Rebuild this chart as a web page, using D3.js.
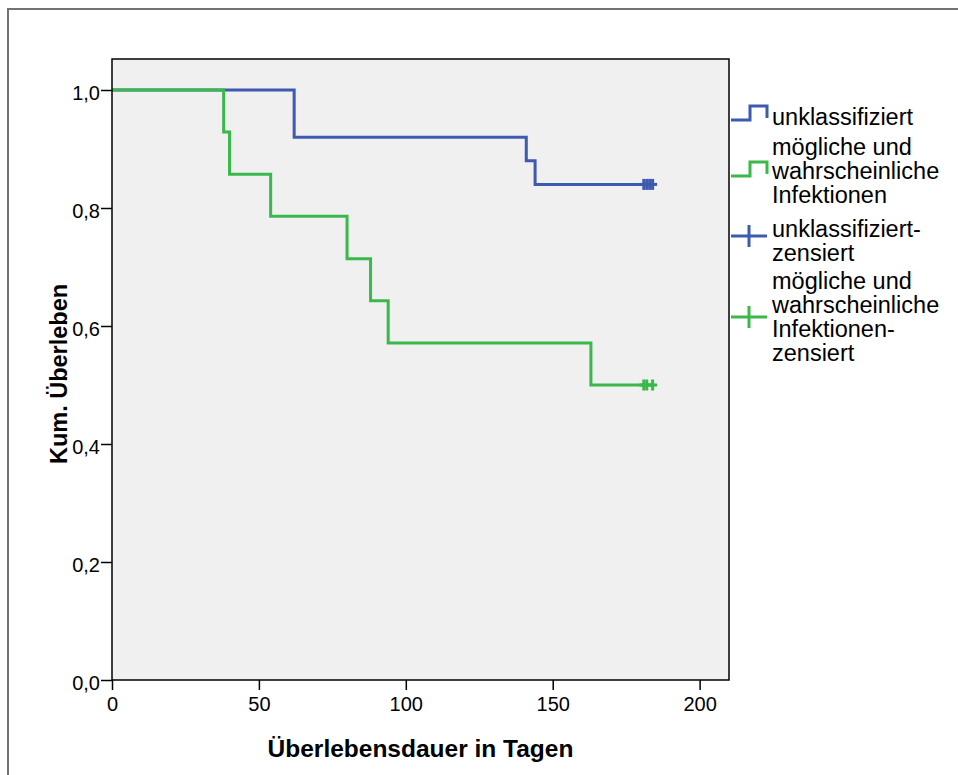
<!DOCTYPE html>
<html>
<head>
<meta charset="utf-8">
<script src="https://cdn.jsdelivr.net/npm/d3@7"></script>
<style>
body { margin: 0; background: #ffffff; }
text { font-family: Arial, "Liberation Sans", sans-serif; fill: #000; }
</style>
</head>
<body>
<script>
//Daten der Kaplan-Meier-Kurven
var gruppen = ["unklassifiziert", "mögliche und wahrscheinliche Infektionen"];
var zeitenUnklass = [0, 62, 141, 144];
var ueberlebenUnklass = [1.0, 0.92, 0.88, 0.84];
var zensiertUnklass = [181, 182, 183, 184];
var zeitenInfekt = [0, 38, 40, 54, 80, 88, 94, 163];
var ueberlebenInfekt = [1.0, 0.929, 0.857, 0.786, 0.714, 0.643, 0.571, 0.5];
var zensiertInfekt = [181, 182, 184];
var xTicks = [0, 50, 100, 150, 200];
var yTicks = [0, 0.2, 0.4, 0.6, 0.8, 1.0];
var legendeTexte = [
    ["unklassifiziert"],
    ["mögliche und", "wahrscheinliche", "Infektionen"],
    ["unklassifiziert-", "zensiert"],
    ["mögliche und", "wahrscheinliche", "Infektionen-", "zensiert"]
];

var farbeBlau = "#3d59b0";
var farbeGruen = "#3bb84b";

var width = 958;
var height = 775;
var plot = {left: 112, right: 729, top: 59, bottom: 680};

var svg = d3.select("body")
    .append("svg")
    .attr("width", width)
    .attr("height", height);

//Äußerer Rahmen
svg.append("rect")
    .attr("x", 8)
    .attr("y", 9)
    .attr("width", 980)
    .attr("height", 800)
    .attr("fill", "none")
    .attr("stroke", "#737373")
    .attr("stroke-width", 2);

//Skalen
var x = d3.scaleLinear().domain([0, 210]).range([plot.left, plot.right]);
var y = d3.scaleLinear().domain([0, 1]).range([plot.bottom, 90]);

var locale = d3.formatLocale({decimal: ",", thousands: ".", grouping: [3], currency: ["", "€"]});

//Hintergrund des Diagramms
svg.append("rect")
    .attr("x", plot.left)
    .attr("y", plot.top)
    .attr("width", plot.right - plot.left)
    .attr("height", plot.bottom - plot.top)
    .attr("fill", "#f0f0f0");

//Kurven
var linie = d3.line()
    .x(function(d) { return x(d[0]); })
    .y(function(d) { return y(d[1]); })
    .curve(d3.curveStepAfter);

function zeichneKurve(zeiten, werte, zensiert, farbe) {
    var punkte = zeiten.map(function(t, i) { return [t, werte[i]]; });
    var letzter = werte[werte.length - 1];
    punkte.push([d3.max(zensiert), letzter]);

    svg.append("path")
        .datum(punkte)
        .attr("d", linie)
        .attr("fill", "none")
        .attr("stroke", farbe)
        .attr("stroke-width", 3);

    //Zensierte Fälle als Kreuze
    var g = svg.append("g");
    zensiert.forEach(function(t) {
        g.append("line")
            .attr("x1", x(t) - 4.5).attr("x2", x(t) + 4.5)
            .attr("y1", y(letzter)).attr("y2", y(letzter))
            .attr("stroke", farbe).attr("stroke-width", 3);
        g.append("line")
            .attr("x1", x(t)).attr("x2", x(t))
            .attr("y1", y(letzter) - 5.5).attr("y2", y(letzter) + 5.5)
            .attr("stroke", farbe).attr("stroke-width", 3);
    });
}

zeichneKurve(zeitenUnklass, ueberlebenUnklass, zensiertUnklass, farbeBlau);
zeichneKurve(zeitenInfekt, ueberlebenInfekt, zensiertInfekt, farbeGruen);

//Rahmen des Diagramms
svg.append("rect")
    .attr("x", plot.left)
    .attr("y", plot.top)
    .attr("width", plot.right - plot.left)
    .attr("height", plot.bottom - plot.top)
    .attr("fill", "none")
    .attr("stroke", "#000")
    .attr("stroke-width", 1.5);

//Achsen
var xAxis = d3.axisBottom(x).tickValues(xTicks).tickSize(10).tickPadding(7).tickFormat(d3.format("d"));
var yAxis = d3.axisLeft(y).tickValues(yTicks).tickSize(11).tickPadding(1).tickFormat(locale.format(".1f"));

var gx = svg.append("g")
    .attr("transform", "translate(0," + plot.bottom + ")")
    .call(xAxis);
var gy = svg.append("g")
    .attr("transform", "translate(" + plot.left + ",0)")
    .call(yAxis);

[gx, gy].forEach(function(g) {
    g.select(".domain").remove();
    g.selectAll(".tick line").attr("stroke", "#000").attr("stroke-width", 1.5);
    g.selectAll(".tick text")
        .attr("fill", "#000")
        .style("font-size", "20px")
        .style("font-family", "Arial, 'Liberation Sans', sans-serif");
});
gy.selectAll(".tick text").attr("dy", "0.45em");

//Achsentitel
svg.append("text")
    .attr("x", (plot.left + plot.right) / 2)
    .attr("y", 757)
    .attr("text-anchor", "middle")
    .style("font-size", "24.5px")
    .style("font-weight", "bold")
    .text("Überlebensdauer in Tagen");

svg.append("text")
    .attr("transform", "translate(67,374) rotate(-90)")
    .attr("text-anchor", "middle")
    .style("font-size", "23.5px")
    .style("font-weight", "bold")
    .text("Kum. Überleben");

//Legende
var legendeY = [125, 155, 237, 289];
var symbolY = [113, 169, 236, 317];
var legendeFarben = [farbeBlau, farbeGruen, farbeBlau, farbeGruen];

legendeTexte.forEach(function(zeilen, i) {
    var cy = symbolY[i];
    if (i < 2) {
        svg.append("path")
            .attr("d", "M731," + (cy + 7) + "H750V" + (cy - 7) + "H767V" + (cy + 5))
            .attr("fill", "none")
            .attr("stroke", legendeFarben[i])
            .attr("stroke-width", 3);
    } else {
        svg.append("line")
            .attr("x1", 731).attr("x2", 767)
            .attr("y1", cy).attr("y2", cy)
            .attr("stroke", legendeFarben[i]).attr("stroke-width", 3);
        svg.append("line")
            .attr("x1", 749).attr("x2", 749)
            .attr("y1", cy - 11).attr("y2", cy + 11)
            .attr("stroke", legendeFarben[i]).attr("stroke-width", 3);
    }

    var txt = svg.append("text")
        .attr("x", 772)
        .attr("y", legendeY[i])
        .style("font-size", "23.5px");
    zeilen.forEach(function(z, j) {
        txt.append("tspan")
            .attr("x", 772)
            .attr("y", legendeY[i] + j * 24)
            .text(z);
    });
});
</script>
</body>
</html>
